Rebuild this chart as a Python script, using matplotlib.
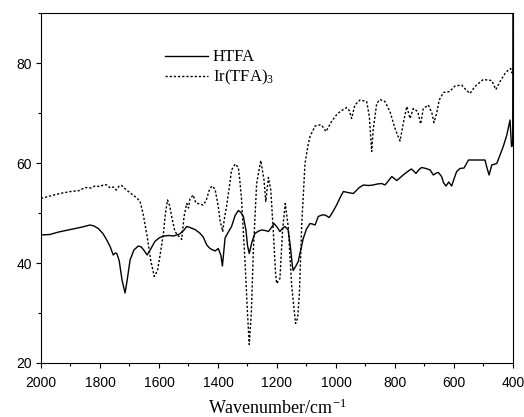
import matplotlib
matplotlib.use("Agg")
import matplotlib.pyplot as plt
from matplotlib.ticker import MultipleLocator

# HTFA spectrum (wavenumber / cm-1, transmittance)
htfa_wn = [2000, 1970, 1940, 1900, 1860, 1834, 1820, 1806, 1790, 1777, 1765, 1755,
           1748, 1743, 1735, 1725, 1715, 1708, 1698, 1685, 1670, 1660, 1653, 1640,
           1628, 1614, 1600, 1585, 1565, 1551, 1530, 1515, 1506, 1495, 1478, 1462,
           1450, 1438, 1427, 1410, 1399, 1390, 1385, 1380, 1376, 1365, 1354, 1342,
           1331, 1322, 1314, 1305, 1300, 1294, 1285, 1275, 1262, 1252, 1240, 1229,
           1220, 1210, 1200, 1190, 1180, 1173, 1162, 1155, 1148, 1145, 1136, 1128,
           1120, 1111, 1100, 1088, 1080, 1071, 1060, 1048, 1037, 1023, 1010, 998,
           985, 975, 960, 941, 921, 907, 890, 874, 860, 845, 834, 820, 811, 794,
           780, 766, 750, 744, 735, 729, 720, 710, 695, 681, 670, 660, 653, 642,
           635, 627, 618, 608, 600, 591, 580, 566, 551, 535, 515, 495, 488, 481,
           472, 455, 444, 433, 421, 410, 405, 401, 400]
htfa_t = [45.6, 45.7, 46.2, 46.7, 47.2, 47.6, 47.4, 46.9, 45.9, 44.6, 43.2, 41.6,
          42.0, 41.9, 40.5, 36.5, 34.0, 36.5, 40.6, 42.6, 43.4, 43.2, 42.7, 41.6,
          42.8, 44.3, 45.0, 45.4, 45.5, 45.4, 45.8, 46.6, 47.3, 47.1, 46.7, 46.0,
          45.2, 43.6, 42.9, 42.4, 42.9, 41.5, 39.4, 42.5, 45.0, 46.2, 47.3, 49.5,
          50.5, 50.1, 49.3, 46.5, 43.5, 41.9, 44.2, 45.9, 46.4, 46.6, 46.5, 46.3,
          47.0, 47.9, 47.2, 46.3, 47.0, 47.3, 46.6, 43.5, 39.5, 38.5, 39.4, 40.3,
          42.5, 44.9, 46.8, 47.9, 47.8, 47.6, 49.3, 49.6, 49.6, 49.1, 50.3, 51.6,
          53.2, 54.3, 54.1, 53.9, 55.1, 55.6, 55.5, 55.6, 55.8, 55.9, 55.6, 56.6,
          57.3, 56.5, 57.2, 57.9, 58.6, 58.8, 58.3, 57.9, 58.6, 59.1, 58.9, 58.6,
          57.6, 58.0, 58.1, 57.3, 56.0, 55.4, 56.2, 55.4, 56.8, 58.3, 58.9, 59.0,
          60.6, 60.6, 60.6, 60.6, 59.0, 57.6, 59.6, 59.9, 61.6, 63.3, 65.6, 68.6,
          63.3, 63.5, 95.0]

# Ir(TFA)3 spectrum
ir_wn = [2000, 1970, 1936, 1900, 1868, 1855, 1845, 1830, 1817, 1800, 1785, 1777,
         1765, 1755, 1745, 1735, 1726, 1718, 1710, 1695, 1681, 1670, 1664, 1653,
         1640, 1628, 1616, 1605, 1597, 1585, 1578, 1571, 1564, 1557, 1546, 1535,
         1523, 1515, 1506, 1500, 1495, 1484, 1475, 1463, 1450, 1440, 1430, 1421,
         1410, 1399, 1393, 1384, 1378, 1371, 1362, 1354, 1342, 1331, 1326, 1320,
         1308, 1300, 1294, 1287, 1280, 1269, 1255, 1244, 1238, 1229, 1221, 1212,
         1205, 1201, 1195, 1190, 1181, 1172, 1162, 1150, 1137, 1130, 1124, 1116,
         1105, 1095, 1088, 1071, 1060, 1049, 1034, 1015, 1000, 986, 964, 955, 947,
         936, 919, 896, 887, 879, 874, 862, 851, 834, 817, 800, 783, 772, 760, 749,
         738, 723, 713, 704, 687, 675, 668, 659, 650, 636, 614, 597, 574, 559, 546,
         529, 501, 472, 458, 444, 427, 416, 408, 403, 400]
ir_t = [52.9, 53.4, 53.9, 54.3, 54.5, 55.0, 55.1, 55.0, 55.4, 55.3, 55.7, 55.6,
        55.0, 55.2, 54.6, 55.4, 55.5, 55.0, 54.6, 53.9, 53.3, 52.7, 52.3, 49.6,
        45.3, 40.5, 37.3, 38.5, 41.3, 45.9, 50.0, 52.6, 51.5, 49.3, 46.3, 45.5,
        44.7, 49.3, 51.9, 51.0, 52.8, 53.6, 52.0, 51.8, 51.6, 52.5, 54.5, 55.4,
        54.8, 51.3, 48.5, 46.3, 49.0, 51.3, 55.0, 58.6, 59.8, 59.1, 56.5, 52.6,
        39.9, 30.0, 23.7, 30.0, 42.6, 55.9, 60.5, 56.6, 52.3, 57.1, 54.6, 45.9,
        38.0, 35.9, 36.5, 36.9, 46.6, 51.9, 47.3, 35.3, 27.9, 29.0, 33.9, 47.9,
        59.9, 63.5, 65.3, 67.4, 67.6, 67.6, 66.3, 68.3, 69.5, 70.3, 71.1, 70.5, 68.9,
        71.6, 72.6, 72.3, 69.3, 62.3, 66.6, 71.9, 72.7, 72.3, 70.3, 66.9, 64.4, 67.9,
        71.3, 68.9, 70.9, 70.3, 67.8, 70.9, 71.6, 70.0, 68.1, 69.9, 72.6, 74.1, 74.3,
        75.4, 75.6, 74.6, 73.9, 75.3, 76.7, 76.5, 74.7, 76.3, 77.9, 78.6, 78.9, 78.0,
        79.0]

plt.rcParams["mathtext.fontset"] = "custom"
plt.rcParams["mathtext.rm"] = "Liberation Serif"
plt.rcParams["mathtext.it"] = "Liberation Serif"

fig = plt.figure(figsize=(5.24, 4.17), dpi=100)
ax = fig.add_axes([0.0782, 0.1295, 0.9008, 0.8393])

ax.plot(htfa_wn, htfa_t, color="black", lw=1.0, label="HTFA")
ax.plot(ir_wn, ir_t, color="black", lw=1.0, linestyle=(0, (1.6, 1.4)),
        label="Ir(TFA)$_3$")

ax.set_xlim(2000, 400)
ax.set_ylim(20, 90)
ax.xaxis.set_major_locator(MultipleLocator(200))
ax.xaxis.set_minor_locator(MultipleLocator(100))
ax.yaxis.set_major_locator(MultipleLocator(20))
ax.yaxis.set_minor_locator(MultipleLocator(10))
ax.tick_params(which="major", direction="out", length=3.5, width=0.8)
ax.tick_params(which="minor", direction="out", length=2, width=0.8)
ax.tick_params(axis="x", pad=6)
ax.tick_params(axis="y", pad=3)
for lbl in ax.get_xticklabels() + ax.get_yticklabels():
    lbl.set_family("Liberation Sans")
    lbl.set_fontsize(10)

ax.set_xlabel("Wavenumber/cm$^{-1}$", family="Liberation Serif", fontsize=13,
              labelpad=6)

ax.legend(loc="upper left", bbox_to_anchor=(0.262, 0.896), frameon=False,
          prop={"family": "Liberation Serif", "size": 12},
          handlelength=2.6, handletextpad=0.3, labelspacing=0.15,
          borderpad=0, borderaxespad=0)

fig.savefig("out.png", dpi=100)
